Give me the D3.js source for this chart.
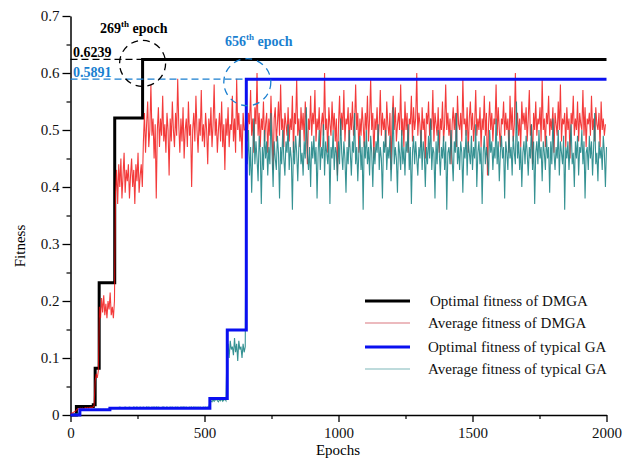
<!DOCTYPE html>
<html><head><meta charset="utf-8">
<script src="https://cdn.jsdelivr.net/npm/d3@7"></script>
<style>
body{margin:0;background:#fff}
svg{display:block}
text{font-family:"Liberation Serif","Times New Roman",serif}
</style>
</head><body><svg id="c" width="624" height="459"></svg>
<script>
// ---------------- data ----------------
const epochStep = 4; // averages are sampled every 4 epochs, 0..2000
const optDMGAEpochs = [0, 22, 85, 92, 107, 165, 269, 2000];
const optDMGA       = [0, 0.015, 0.018, 0.082, 0.232, 0.521, 0.6239, 0.6239];
const optGAEpochs   = [0, 35, 147, 520, 585, 656, 2000];
const optGA         = [0, 0.009, 0.012, 0.029, 0.149, 0.5891, 0.5891];

const avgDMGA = [
0.002,0.003,0.004,0.005,0.006,0.007,
0.010,0.011,0.010,0.012,0.011,0.012,0.011,0.012,0.013,0.012,0.013,0.012,0.013,0.014,0.013,0.014,0.016,
0.060,0.072,0.065,0.078,
0.19,0.17,0.205,0.18,0.21,0.175,0.195,0.17,0.20,0.185,0.215,0.175,0.19,0.17,0.20,
0.39,0.43,0.37,0.44,0.40,0.45,0.38,0.42,0.46,0.39,0.43,0.41,0.44,0.38,0.42,0.45,0.40,0.43,0.37,0.44,0.41,0.46,0.39,0.42,0.44,0.40,
0.48,0.53,0.46,0.51,0.55,0.47,0.50,0.58,0.49,0.52,
0.45,0.51,0.38,0.50,0.54,0.47,0.52,0.49,0.56,0.48,
0.51,0.46,0.53,0.50,0.42,0.52,0.48,0.55,0.50,0.47,
0.53,0.49,0.59,0.51,0.46,0.52,0.48,0.54,0.45,0.50,
0.52,0.47,0.55,0.49,0.51,0.40,0.50,0.53,0.48,0.56,
0.50,0.46,0.52,0.49,0.57,0.48,0.51,0.47,0.53,0.50,
0.44,0.52,0.49,0.54,0.47,0.51,0.58,0.49,0.52,0.46,
0.50,0.53,0.48,0.55,0.47,0.51,0.43,0.52,0.49,0.54,
0.47,0.51,0.50,0.56,0.48,0.52,0.46,0.59,0.50,0.53,
0.48,0.51,0.45,0.53,0.50,
0.50,0.55,0.48,0.53,0.51,0.57,0.49,0.52,0.46,0.54,
0.51,0.60,0.49,0.53,0.47,0.52,0.50,0.55,0.48,0.51,
0.53,0.46,0.52,0.49,0.56,0.50,0.43,0.52,0.54,0.48,
0.51,0.55,0.49,0.58,0.50,0.52,0.47,0.53,0.51,0.49,
0.54,0.48,0.52,0.50,0.56,0.46,0.53,0.51,0.59,0.49,
0.52,0.47,0.54,0.50,0.53,0.48,0.55,0.51,0.44,0.52,
0.50,0.56,0.49,0.53,0.51,0.57,0.48,0.52,0.50,0.54,
0.47,0.51,0.53,0.49,0.60,0.50,0.52,0.46,0.54,0.51,
0.49,0.55,0.50,0.53,0.48,0.52,0.42,0.51,0.56,0.49,
0.53,0.50,0.57,0.48,0.52,0.51,0.54,0.47,0.53,0.50,
0.55,0.49,0.51,0.58,0.50,0.53,0.46,0.52,0.49,0.54,
0.51,0.47,0.53,0.50,0.56,0.48,0.52,0.59,0.50,0.53,
0.45,0.52,0.50,0.54,0.48,0.51,0.57,0.49,0.53,0.50,
0.52,0.47,0.55,0.51,0.49,0.53,0.43,0.52,0.56,0.50,
0.54,0.48,0.51,0.53,0.50,0.58,0.49,0.52,0.47,0.55,
0.50,0.53,0.46,0.52,0.51,0.56,0.48,0.54,0.50,0.52,
0.60,0.49,0.53,0.51,0.47,0.54,0.50,0.52,0.45,0.53,
0.51,0.55,0.49,0.52,0.50,0.57,0.48,0.53,0.51,0.49,
0.54,0.46,0.52,0.50,0.55,0.48,0.51,0.58,0.50,0.53,
0.49,0.52,0.44,0.51,0.54,0.50,0.53,0.47,0.56,0.51,
0.50,0.53,0.48,0.59,0.51,0.52,0.49,0.54,0.46,0.52,
0.55,0.50,0.53,0.48,0.51,0.57,0.49,0.52,0.50,0.54,
0.47,0.52,0.50,0.56,0.49,0.53,0.42,0.51,0.55,0.50,
0.53,0.48,0.52,0.51,0.58,0.49,0.54,0.50,0.47,0.52,
0.51,0.55,0.49,0.53,0.50,0.52,0.46,0.56,0.50,0.54,
0.48,0.51,0.60,0.50,0.53,0.49,0.52,0.47,0.55,0.51,
0.53,0.50,0.54,0.48,0.52,0.57,0.49,0.51,0.44,0.53,
0.50,0.55,0.49,0.52,0.51,0.54,0.48,0.59,0.50,0.52,
0.47,0.53,0.51,0.56,0.49,0.52,0.50,0.54,0.46,0.53,
0.51,0.49,0.55,0.50,0.58,0.48,0.52,0.51,0.53,0.47,
0.54,0.50,0.52,0.45,0.53,0.51,0.56,0.49,0.52,0.50,
0.55,0.48,0.53,0.51,0.50,0.57,0.49,0.54,0.47,0.52,
0.51,0.53,0.49,0.56,0.50,0.52,0.48,0.54,0.51,0.50,
0.53,0.47,0.55,0.50,0.52,0.49,0.51
];

const avgGA = [
0.000,0.000,0.001,0.001,0.002,0.002,0.002,0.003,0.003,
0.008,0.009,0.008,0.009,0.010,0.009,0.008,0.009,0.010,0.009,
0.009,0.010,0.009,0.010,0.009,0.008,0.009,0.010,0.009,0.010,
0.009,0.009,0.010,0.009,0.010,0.009,0.010,0.010,
0.012,0.013,0.012,0.013,0.012,0.013,0.013,0.012,0.013,0.014,
0.013,0.012,0.013,0.013,0.014,0.013,0.012,0.013,0.014,0.013,
0.013,0.012,0.014,0.013,0.013,0.014,0.012,0.013,0.014,0.013,
0.013,0.014,0.013,0.012,0.014,0.013,0.014,0.013,0.013,0.014,
0.013,0.014,0.012,0.014,0.013,0.014,0.013,0.012,0.013,0.014,
0.014,0.013,0.013,0.014,0.012,0.013,0.014,0.013,0.014,0.013,
0.013,0.014,0.013,0.014,0.013,0.012,0.014,0.013,0.014,0.014,
0.013,0.014,0.013,0.013,0.014,0.013,0.014,0.012,0.014,0.013,
0.014,0.013,0.014,0.013,0.014,0.013,0.013,0.014,0.013,0.014,
0.013,0.014,0.014,
0.022,0.025,0.023,0.027,0.024,0.026,0.028,0.025,0.023,0.027,0.025,0.029,0.024,0.026,0.028,0.025,
0.11,0.125,0.10,0.13,0.115,0.12,0.105,0.135,0.11,0.125,0.095,0.13,0.115,0.12,0.10,0.125,0.11,0.12,
0.48,0.44,0.50,0.42,0.47,0.39,0.46,0.52,0.44,0.48,
0.45,0.41,0.49,0.46,0.37,0.47,0.43,0.50,0.45,0.48,
0.42,0.47,0.44,0.53,0.46,0.40,0.48,0.45,0.43,0.49,
0.46,0.38,0.47,0.44,0.50,0.45,0.42,0.48,0.46,0.51,
0.43,0.47,0.45,0.36,0.48,0.44,0.49,0.46,0.41,0.47,
0.50,0.44,0.46,0.42,0.48,0.45,0.54,0.46,0.43,0.47,
0.40,0.48,0.45,0.49,0.44,0.47,0.38,0.46,0.50,0.43,
0.47,0.45,0.51,0.42,0.48,0.46,0.44,0.49,0.37,0.47,
0.45,0.50,0.43,0.47,0.46,0.41,0.48,0.44,0.52,0.46,
0.43,0.48,0.45,0.39,0.47,0.44,0.50,0.46,0.42,0.48,
0.46,0.53,0.44,0.47,0.41,0.46,0.49,0.43,0.47,0.36,
0.48,0.45,0.50,0.44,0.47,0.42,0.49,0.46,0.40,0.47,
0.44,0.48,0.46,0.51,0.43,0.47,0.45,0.38,0.48,0.46,
0.50,0.43,0.47,0.45,0.49,0.41,0.46,0.54,0.44,0.47,
0.45,0.39,0.48,0.46,0.43,0.50,0.44,0.47,0.42,0.48,
0.46,0.51,0.43,0.47,0.37,0.46,0.49,0.44,0.48,0.45,
0.42,0.47,0.45,0.50,0.43,0.48,0.46,0.40,0.47,0.44,
0.49,0.45,0.52,0.43,0.47,0.46,0.38,0.48,0.44,0.50,
0.46,0.42,0.47,0.45,0.49,0.43,0.48,0.36,0.46,0.47,
0.44,0.50,0.45,0.41,0.48,0.46,0.53,0.44,0.47,0.43,
0.48,0.46,0.39,0.47,0.45,0.50,0.42,0.48,0.46,0.44,
0.49,0.43,0.47,0.45,0.51,0.40,0.46,0.48,0.44,0.47,
0.37,0.46,0.49,0.44,0.47,0.45,0.42,0.50,0.46,0.48,
0.43,0.47,0.45,0.52,0.44,0.48,0.41,0.46,0.49,0.45,
0.47,0.38,0.48,0.46,0.43,0.50,0.45,0.47,0.42,0.49,
0.46,0.44,0.55,0.45,0.48,0.43,0.47,0.40,0.46,0.48,
0.44,0.49,0.46,0.42,0.47,0.45,0.51,0.43,0.48,0.37,
0.46,0.48,0.44,0.50,0.45,0.47,0.41,0.48,0.46,0.43,
0.49,0.45,0.47,0.39,0.48,0.44,0.52,0.46,0.43,0.47,
0.45,0.50,0.42,0.48,0.46,0.44,0.49,0.36,0.47,0.45,
0.48,0.43,0.47,0.51,0.44,0.46,0.40,0.48,0.45,0.49,
0.42,0.47,0.46,0.50,0.44,0.48,0.38,0.46,0.47,0.43,
0.49,0.45,0.48,0.42,0.47,0.53,0.44,0.46,0.41,0.48,
0.45,0.47,0.43,0.49,0.46,0.40,0.47
];

const xTicks = [0, 500, 1000, 1500, 2000];
const xMinorTicks = [250, 750, 1250, 1750];
const yTicks = [0, 0.1, 0.2, 0.3, 0.4, 0.5, 0.6, 0.7];
const yMinorTicks = [0.05, 0.15, 0.25, 0.35, 0.45, 0.55, 0.65];
const legendLabels = ["Optimal fitness of DMGA", "Average fitness of DMGA",
                      "Optimal fitness of typical GA", "Average fitness of typical GA"];
const bestEpochDMGA = 269, bestEpochGA = 656;

// ---------------- drawing ----------------
const svg = d3.select("#c");
const x = d3.scaleLinear().domain([0, 2000]).range([70.5, 606.5]);
const y = d3.scaleLinear().domain([0, 0.7]).range([415, 16]);

const cBlack = "#000", cRed = "#f00a0a", cBlue = "#0a10f0", cTeal = "#137f80", cAnnBlue = "#1a7fd0";

// axes
const yAxis = svg.append("g").attr("transform", `translate(${x(0)},0)`)
  .call(d3.axisLeft(y).tickValues(yTicks).tickFormat(d => d === 0 ? "0" : d3.format(".1f")(d)).tickSize(8).tickSizeOuter(0).tickPadding(3));
yAxis.select(".domain").attr("stroke-width", 1.5);
yAxis.selectAll(".tick line").attr("stroke-width", 1.3);
yAxis.selectAll("text").attr("font-size", 15).attr("fill", "#111");
svg.append("g").attr("transform", `translate(${x(0)},0)`)
  .call(d3.axisLeft(y).tickValues(yMinorTicks).tickFormat("").tickSize(4).tickSizeOuter(0))
  .call(g => g.select(".domain").remove())
  .selectAll("line").attr("stroke-width", 1.2);

const xAxis = svg.append("g").attr("transform", `translate(0,${y(0)})`)
  .call(d3.axisBottom(x).tickValues(xTicks).tickFormat(d3.format("d")).tickSize(7).tickSizeOuter(0).tickPadding(5));
xAxis.select(".domain").attr("stroke-width", 1.5);
xAxis.selectAll(".tick line").attr("stroke-width", 1.3);
xAxis.selectAll("text").attr("font-size", 15).attr("fill", "#111");
svg.append("g").attr("transform", `translate(0,${y(0)})`)
  .call(d3.axisBottom(x).tickValues(xMinorTicks).tickFormat("").tickSize(4).tickSizeOuter(0))
  .call(g => g.select(".domain").remove())
  .selectAll("line").attr("stroke-width", 1.2);

svg.append("text").attr("x", 338).attr("y", 455).attr("text-anchor", "middle")
  .attr("font-size", 15).text("Epochs");
svg.append("text").attr("transform", "translate(25,246) rotate(-90)").attr("text-anchor", "middle")
  .attr("font-size", 15).text("Fitness");

// lines
const stepLine = d3.line().x(d => x(d[0])).y(d => y(d[1])).curve(d3.curveStepAfter);
const avgLine = d3.line().x((d, i) => x(i * epochStep)).y(d => y(d));

svg.append("path").datum(optDMGAEpochs.map((e, i) => [e, optDMGA[i]]))
  .attr("d", stepLine).attr("fill", "none").attr("stroke", cBlack).attr("stroke-width", 3);
svg.append("path").datum(avgDMGA).attr("d", avgLine).attr("fill", "none")
  .attr("stroke", cRed).attr("stroke-width", 1.1).attr("stroke-opacity", 0.8);
svg.append("path").datum(avgGA).attr("d", avgLine).attr("fill", "none")
  .attr("stroke", cTeal).attr("stroke-width", 1.1).attr("stroke-opacity", 0.85);
svg.append("path").datum(optGAEpochs.map((e, i) => [e, optGA[i]]))
  .attr("d", stepLine).attr("fill", "none").attr("stroke", cBlue).attr("stroke-width", 3);

// annotations
const vDMGA = optDMGA[optDMGA.length - 1], vGA = optGA[optGA.length - 1];
svg.append("line").attr("x1", x(0)).attr("x2", x(bestEpochDMGA)).attr("y1", y(vDMGA)).attr("y2", y(vDMGA))
  .attr("stroke", cBlack).attr("stroke-width", 1.2).attr("stroke-dasharray", "7,4");
svg.append("line").attr("x1", x(0)).attr("x2", x(bestEpochGA)).attr("y1", y(vGA)).attr("y2", y(vGA))
  .attr("stroke", cAnnBlue).attr("stroke-width", 1.2).attr("stroke-dasharray", "7,4");
svg.append("circle").attr("cx", x(bestEpochDMGA)).attr("cy", y(vDMGA) + 4).attr("r", 23)
  .attr("fill", "none").attr("stroke", cBlack).attr("stroke-width", 1.3).attr("stroke-dasharray", "7,5");
svg.append("circle").attr("cx", x(bestEpochGA) + 1).attr("cy", y(vGA) + 3).attr("r", 23.5)
  .attr("fill", "none").attr("stroke", cAnnBlue).attr("stroke-width", 1.3).attr("stroke-dasharray", "7,5");

svg.append("text").attr("x", 73).attr("y", y(vDMGA) - 2).attr("font-size", 14).attr("font-weight", "bold")
  .attr("fill", cBlack).text(d3.format(".4f")(vDMGA));
svg.append("text").attr("x", 73).attr("y", y(vGA) - 2).attr("font-size", 14).attr("font-weight", "bold")
  .attr("fill", cAnnBlue).text(d3.format(".4f")(vGA));

function epochLabel(xPos, yPos, n, color) {
  const t = svg.append("text").attr("x", xPos).attr("y", yPos).attr("font-size", 14)
    .attr("font-weight", "bold").attr("fill", color);
  t.append("tspan").text(n);
  t.append("tspan").attr("font-size", 9).attr("dy", -6).text("th");
  t.append("tspan").attr("dy", 6).text(" epoch");
}
epochLabel(100, 33, bestEpochDMGA, cBlack);
epochLabel(225, 46, bestEpochGA, cAnnBlue);

// legend
const legendColors = ["#000", "#e6a3a8", cBlue, "#a9cfd0"];
const legendWidths = [3, 1.6, 3, 1.6];
const legendY = [301, 323, 347, 369];
legendLabels.forEach((lab, i) => {
  svg.append("line").attr("x1", 365).attr("x2", 410).attr("y1", legendY[i]).attr("y2", legendY[i])
    .attr("stroke", legendColors[i]).attr("stroke-width", legendWidths[i]);
  svg.append("text").attr("x", i === 0 ? 430 : 428).attr("y", legendY[i] + 5).attr("font-size", 15)
    .attr("fill", "#111").text(lab);
});
</script>
</body></html>
